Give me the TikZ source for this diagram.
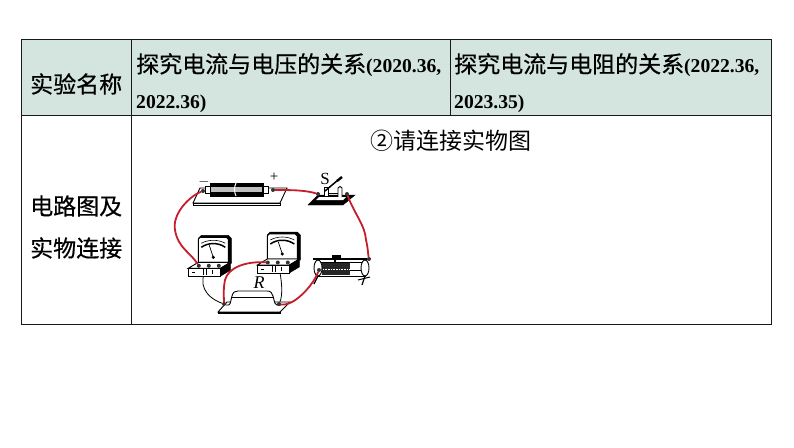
\documentclass[tikz,border=0pt]{standalone}
\usepackage{fontspec}
\usetikzlibrary{backgrounds}
\newfontfamily\cjk[FakeBold=0.6]{Noto Sans CJK SC}
\newfontfamily\cjklight{Noto Sans CJK SC}
\newfontfamily\numf{Liberation Serif}[BoldFont={Liberation Serif Bold}]
\newcommand{\yrfont}{\fontsize{19.6}{20}\selectfont\numf\bfseries}
\definecolor{headfill}{HTML}{D3E5DE}
\definecolor{wirered}{HTML}{C41E2A}

\tikzset{
    txt/.style={inner sep=0pt, anchor=west, font=\fontsize{23}{23}\selectfont\cjk},
    yr/.style={font=\yrfont},
    part/.style={draw=black, fill=white, line width=0.9pt},
    wire/.style={draw=wirered, line width=1.8pt, line cap=round},
    thinwire/.style={draw=black, line width=0.8pt},
    post/.style={circle, fill=black!80, inner sep=0pt, minimum size=4pt},
    meter/.pic={
        % Quadrante
        \filldraw[black, line width=0.5pt] (10,-5) -- (10,-30) -- (13,-33) -- (40,-33) -- (43,-30) -- (43,-5) -- cycle;
        \filldraw[part] (10,-6) -- (10,-29) -- (12,-31) -- (38,-31) -- (40,-29) -- (40,-6) -- cycle;
        \draw[line width=1.5pt] (13,-21) .. controls (20,-26) and (30,-26) .. (37,-21);
        \draw[line width=0.6pt] (13,-25) .. controls (20,-29) and (30,-29) .. (37,-25);
        \draw[line width=0.7pt] (25,-11) -- (21,-23);
        \filldraw[black] (25,-11) circle[radius=1.4pt];
        % Base
        \filldraw[part] (0,0) -- (10,-6) -- (42,-6) -- (32,0) -- cycle;
        \filldraw[part] (0,0) rectangle (32,8);
        \filldraw[black] (32,0) -- (42,-6) -- (42,2) -- (32,8) -- cycle;
        \draw[line width=0.8pt] (4,4) -- (7,4);
        \draw[line width=0.6pt] (15,1) -- (15,7) (18,1) -- (18,7) (24,2) -- (24,6);
        % Morsetti
        \node[post] (-t1) at (10.5,-2.5) {};
        \node[post] (-t2) at (20.5,-2.5) {};
        \node[post] (-t3) at (30.5,-2.5) {};
    }
}

\begin{document}
\begin{tikzpicture}[x=1pt, y=-1pt]
    \useasboundingbox (0,0) rectangle (794,447);

    % Tabella
    \fill[headfill] (21,39) rectangle (771,115);
    \draw[line width=0.9pt, black!90] (21,39) rectangle (771,324);
    \draw[line width=0.9pt, black!90] (21,115) -- (771,115);
    \draw[line width=0.9pt, black!90] (131,39) -- (131,324);
    \draw[line width=0.9pt, black!90] (450,39) -- (450,115);

    % Testi
    \node[txt] (name) at (30,84) {实验名称};
    \node[txt] (headA) at (136,65) {探究电流与电压的关系{\yrfont(2020.36,}};
    \node[txt, yr] (headAb) at (136,104) {2022.36)};
    \node[txt] (headB) at (454,65) {探究电流与电阻的关系{\yrfont(2022.36,}};
    \node[txt, yr] (headBb) at (454,104) {2023.35)};
    \node[txt] (circ) at (30,206) {电路图及};
    \node[txt] (conn) at (30,248) {实物连接};
    \node[txt, font=\fontsize{23}{23}\selectfont\cjklight] (ask) at (370,141) {②请连接实物图};

    % Batteria
    \filldraw[part] (193,203) -- (200,188) -- (287,188) -- (280,203) -- cycle;
    \filldraw[part] (193,203) rectangle (280,205);
    \filldraw[black] (210,183) rectangle (263,196);
    \fill[black!25] (211,187) rectangle (262,191.5);
    \draw[white, line width=1pt] (236,183) .. controls (234,187) and (234,192) .. (236,196);
    \draw[part] (263,186) rectangle (268,193);
    \draw[part] (205,186) rectangle (210,193);
    \node[post] (batneg) at (203,191) {};
    \node[post] (batpos) at (273,190) {};
    \node[inner sep=0pt, font=\fontsize{15}{15}\selectfont\numf] (minus) at (204,182) {$-$};
    \node[inner sep=0pt, font=\fontsize{15}{15}\selectfont\numf] (plus) at (274,177) {+};

    % Interruttore
    \filldraw[black] (308,205) -- (318,195) -- (355,195) -- (343,205) -- cycle;
    \fill[white] (316,200) -- (319,197) -- (346,197) -- (343,200) -- cycle;
    \draw[part] (324,196) rectangle (328,187);
    \draw[part] (338,197) -- (338,188) .. controls (339,186) and (341,186) .. (342,188) -- (342,197);
    \draw[line width=1.5pt] (325,191) -- (338,180);
    \draw[line width=2.4pt] (337,181) -- (342,177);
    \draw[line width=0.8pt] (328,193) -- (338,193);
    \node[post] (swa) at (318,194) {};
    \node[post] (swb) at (347,194) {};
    \node[inner sep=0pt, font=\fontsize{17}{17}\selectfont\numf] (swname) at (325,179) {S};

    % Strumenti
    \pic (amp) at (188.3,268.3) {meter};
    \pic (volt) at (257.3,265) {meter};

    % Resistenza
    \filldraw[part] (218,312) -- (227,302) -- (290,302) -- (280,312) -- cycle;
    \filldraw[part] (218,312) rectangle (280,313);
    \filldraw[part] (226,305) .. controls (231,306) and (230,303) .. (232,296) .. controls (233,292) and (235,291) .. (238,291) -- (267,291) .. controls (271,291) and (272,293) .. (273,296) .. controls (275,303) and (274,306) .. (281,305);
    \draw[line width=0.8pt] (232,297) -- (273,297);
    \node[post] (resa) at (224,304) {};
    \node[post] (resb) at (279,304) {};
    \node[inner sep=0pt, font=\fontsize{18}{18}\selectfont\numf\itshape] (resname) at (259,283) {R};

    % Reostato
    \draw[line width=1.5pt] (313,259) -- (370,259);
    \filldraw[part] (318,262) rectangle (365,276);
    \fill[black!85] (322,263) rectangle (350,275);
    \draw[white, densely dotted, line width=0.6pt] (323,269) -- (349,269);
    \draw[line width=0.6pt] (350,270) -- (362,270);
    \filldraw[part] (318,268) ellipse[x radius=4pt, y radius=8pt];
    \filldraw[part] (365,268) ellipse[x radius=4pt, y radius=8pt];
    \draw[line width=1.2pt] (318,276) -- (314,284);
    \draw[line width=1.2pt] (365,276) -- (362,285);
    \draw[line width=1pt] (358,280) -- (370,277);
    \filldraw[black] (332,255) rectangle (340,258.5);
    \draw[line width=1.2pt] (335,258) -- (335,263);
    \node[post] (rhb) at (369,259) {};
    \node[post] (rha) at (319,270) {};

    % Fili
    \begin{scope}[on background layer]
        \draw[thinwire] (amp-t2) .. controls (197,283) and (205,297) .. (resa);
        \draw[thinwire] (volt-t2) .. controls (282,280) and (283,295) .. (resb);
    \end{scope}
    \draw[wire] (batneg) .. controls (188,197) and (172,215) .. (175,230) .. controls (178,248) and (190,252) .. (amp-t1);
    \draw[wire] (batpos) .. controls (290,190) and (305,190) .. (swa);
    \draw[wire] (swb) .. controls (355,215) and (365,225) .. (366,240) .. controls (368,248) and (368,254) .. (rhb);
    \draw[wire] (rha) .. controls (313,285) and (300,298) .. (292,302) .. controls (288,304) and (284,305) .. (resb);
    \draw[wire] (volt-t1) .. controls (245,261) and (228,268) .. (225,280) .. controls (223,290) and (224,298) .. (resa);
\end{tikzpicture}
\end{document}
